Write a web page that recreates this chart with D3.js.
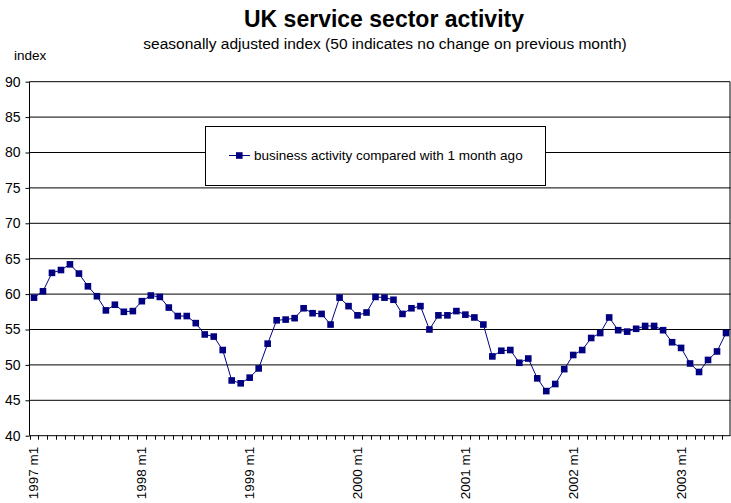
<!DOCTYPE html>
<html>
<head>
<meta charset="utf-8">
<script src="https://cdn.jsdelivr.net/npm/d3@7"></script>
<style>
  body { margin: 0; background: #fff; }
  svg { display: block; font-family: "Liberation Sans", Arial, sans-serif; }
</style>
</head>
<body>
<svg id="chart" width="731" height="503"></svg>
<script>
// data: monthly index, 1997 m1 .. 2003 m6
var years = [1997, 1998, 1999, 2000, 2001, 2002, 2003];
var lastYearMonths = 6;
var activity = [
  59.5, 60.4, 63.0, 63.4, 64.2, 62.9, 61.1, 59.7, 57.7, 58.5, 57.5, 57.6,
  59.0, 59.8, 59.6, 58.1, 56.9, 56.9, 55.9, 54.3, 54.0, 52.1, 47.8, 47.4,
  48.2, 49.5, 53.0, 56.3, 56.4, 56.6, 58.0, 57.3, 57.2, 55.7, 59.5, 58.3,
  57.0, 57.4, 59.6, 59.5, 59.2, 57.2, 58.0, 58.3, 55.0, 57.0, 57.0, 57.6,
  57.1, 56.7, 55.7, 51.2, 52.0, 52.1, 50.3, 50.9, 48.1, 46.3, 47.3, 49.4,
  51.4, 52.1, 53.8, 54.5, 56.7, 54.9, 54.7, 55.1, 55.5, 55.5, 54.9, 53.2,
  52.4, 50.2, 49.0, 50.7, 51.9, 54.5
];
var yTicks = [40, 45, 50, 55, 60, 65, 70, 75, 80, 85, 90];
var seriesName = 'business activity compared with 1 month ago';

var categories = [];
years.forEach(function(yr, i) {
  var n = i === years.length - 1 ? lastYearMonths : 12;
  for (var m = 1; m <= n; m++) categories.push(yr + ' m' + m);
});

var rows = categories.map(function(c, i) { return {name: c, value: activity[i]}; });

var render = function(selector) {
  var left = 29.5, right = 730.5, top = 81.7, bottom = 435.7;
  var navy = '#000080';

  var svg = d3.select(selector);

  var x = d3.scaleBand()
    .domain(categories)
    .range([left, right])
    .padding(0);

  var y = d3.scaleLinear()
    .domain([40, 90])
    .range([bottom, top]);

  // titles
  svg.append('text')
    .attr('x', 384).attr('y', 27)
    .attr('text-anchor', 'middle')
    .style('font-size', '23px').style('font-weight', 'bold')
    .text('UK service sector activity');

  svg.append('text')
    .attr('x', 385).attr('y', 49)
    .attr('text-anchor', 'middle')
    .style('font-size', '15.5px')
    .text('seasonally adjusted index (50 indicates no change on previous month)');

  svg.append('text')
    .attr('x', 14).attr('y', 60)
    .style('font-size', '13.5px')
    .text('index');

  // gridlines
  svg.append('g')
    .selectAll('line')
    .data(yTicks.filter(function(d) { return d > 40 && d < 90; }))
    .enter().append('line')
    .attr('x1', left).attr('x2', right)
    .attr('y1', d => y(d)).attr('y2', d => y(d))
    .attr('stroke', '#000').attr('stroke-width', 1);

  // plot frame (top + right)
  svg.append('path')
    .attr('d', `M${left},${top}H${right - 0.5}V${bottom}`)
    .attr('fill', 'none').attr('stroke', '#000');

  // y axis
  var yAxis = d3.axisLeft(y).tickValues(yTicks).tickSize(4).tickPadding(5);
  var gy = svg.append('g')
    .attr('transform', `translate(${left}, 0)`)
    .call(yAxis);
  gy.select('.domain').attr('d', `M0,${top}V${bottom}`);
  gy.selectAll('text').style('font-size', '14px').attr('fill', '#000');

  // x axis: ticks between categories, labels at each January
  var gx = svg.append('g')
    .attr('transform', `translate(0, ${bottom})`);
  gx.append('line')
    .attr('x1', left).attr('x2', right)
    .attr('stroke', '#000');
  gx.selectAll('.tick')
    .data(d3.range(categories.length + 1))
    .enter().append('line')
    .attr('x1', i => Math.round(left + i * x.bandwidth()) + 0.5)
    .attr('x2', i => Math.round(left + i * x.bandwidth()) + 0.5)
    .attr('y1', 0).attr('y2', 4)
    .attr('stroke', '#000');
  gx.selectAll('.lab')
    .data(categories.filter(function(c) { return / m1$/.test(c); }))
    .enter().append('text')
    .attr('transform', c => `translate(${x(c) + x.bandwidth() / 2 + 4.5}, 11) rotate(-90)`)
    .attr('text-anchor', 'end')
    .style('font-size', '13.5px')
    .text(c => c);

  // series
  var line = d3.line()
    .x(d => x(d.name) + x.bandwidth() / 2)
    .y(d => y(d.value));

  svg.append('path')
    .datum(rows)
    .attr('d', line)
    .attr('fill', 'none')
    .attr('stroke', navy)
    .attr('stroke-width', 1);

  svg.append('g')
    .selectAll('rect')
    .data(rows)
    .enter().append('rect')
    .attr('x', d => x(d.name) + x.bandwidth() / 2 - 3.3)
    .attr('y', d => y(d.value) - 3.3)
    .attr('width', 6.6).attr('height', 6.6)
    .attr('fill', navy);

  // legend
  var lg = svg.append('g');
  lg.append('rect')
    .attr('x', 205.5).attr('y', 126.5)
    .attr('width', 340).attr('height', 59)
    .attr('fill', '#fff').attr('stroke', '#000');
  lg.append('line')
    .attr('x1', 229).attr('x2', 250)
    .attr('y1', 155.5).attr('y2', 155.5)
    .attr('stroke', navy);
  lg.append('rect')
    .attr('x', 236).attr('y', 152.2)
    .attr('width', 6.6).attr('height', 6.6)
    .attr('fill', navy);
  lg.append('text')
    .attr('x', 254).attr('y', 160)
    .style('font-size', '13.5px')
    .text(seriesName);
};

render('#chart');
</script>
</body>
</html>
